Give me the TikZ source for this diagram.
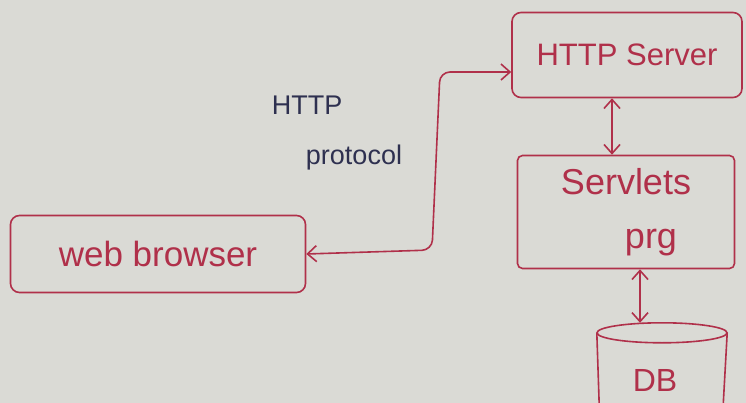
\documentclass[tikz,border=0pt]{standalone}
\usepackage{fontspec}
\setmainfont{Liberation Sans}
\usetikzlibrary{arrows.meta}
\definecolor{ink}{HTML}{B0304A}
\definecolor{pen}{HTML}{2E3050}
\definecolor{paper}{HTML}{DADAD5}
\tikzset{
  box/.style={draw=ink, line width=1.6pt, rounded corners=9pt, text=ink, inner sep=0pt},
  link/.style={draw=ink, line width=1.6pt, {Straight Barb[length=9pt,width=16pt]}-{Straight Barb[length=9pt,width=16pt]}},
  lbl/.style={text=pen, font=\fontsize{27}{30}\selectfont, align=left}
}
\begin{document}
\begin{tikzpicture}[x=1pt,y=-1pt]
\useasboundingbox (0,0) rectangle (746,403);
\clip (0,0) rectangle (746,403);
\fill[paper] (0,0) rectangle (746,403);
\node[box, minimum width=230, minimum height=85, font=\fontsize{31}{34}\selectfont] (hs) at (627,55) {HTTP Server};
\node[box, minimum width=217, minimum height=113, align=center, rounded corners=5pt, font=\fontsize{36}{40}\selectfont] (sp) at (626,212) {Servlets\\[14pt]\hspace*{50pt}prg};
\node[box, minimum width=295, minimum height=77, font=\fontsize{35}{38}\selectfont] (wb) at (158,254) {web browser};
\node[minimum width=130, minimum height=80, inner sep=0pt] (db) at (662,363) {};
\node[text=ink, font=\fontsize{32}{34}\selectfont, inner sep=0pt] (dbt) at (655,380) {DB};
\draw[ink, line width=1.6pt] ([yshift=-10pt]db.north) ellipse [x radius=65, y radius=10];
\draw[ink, line width=1.6pt] ([yshift=-10pt]db.north west) -- ++(3,90);
\draw[ink, line width=1.6pt] ([yshift=-10pt]db.north east) -- ++(-5,90);
\node[lbl] (proto) at (337,133) {HTTP\\[20pt]\hspace*{34pt}protocol};
\coordinate (c1) at (432,250);
\coordinate (c2) at (440,72);
\draw[link, rounded corners=10pt] (wb.east) -- (c1) -- (c2) -- (hs.west |- c2);
\draw[link] (hs.south -| 612,0) -- (sp.north -| 612,0);
\draw[link] (sp.south -| 640,0) -- (db.north -| 640,0);
\end{tikzpicture}
\end{document}
